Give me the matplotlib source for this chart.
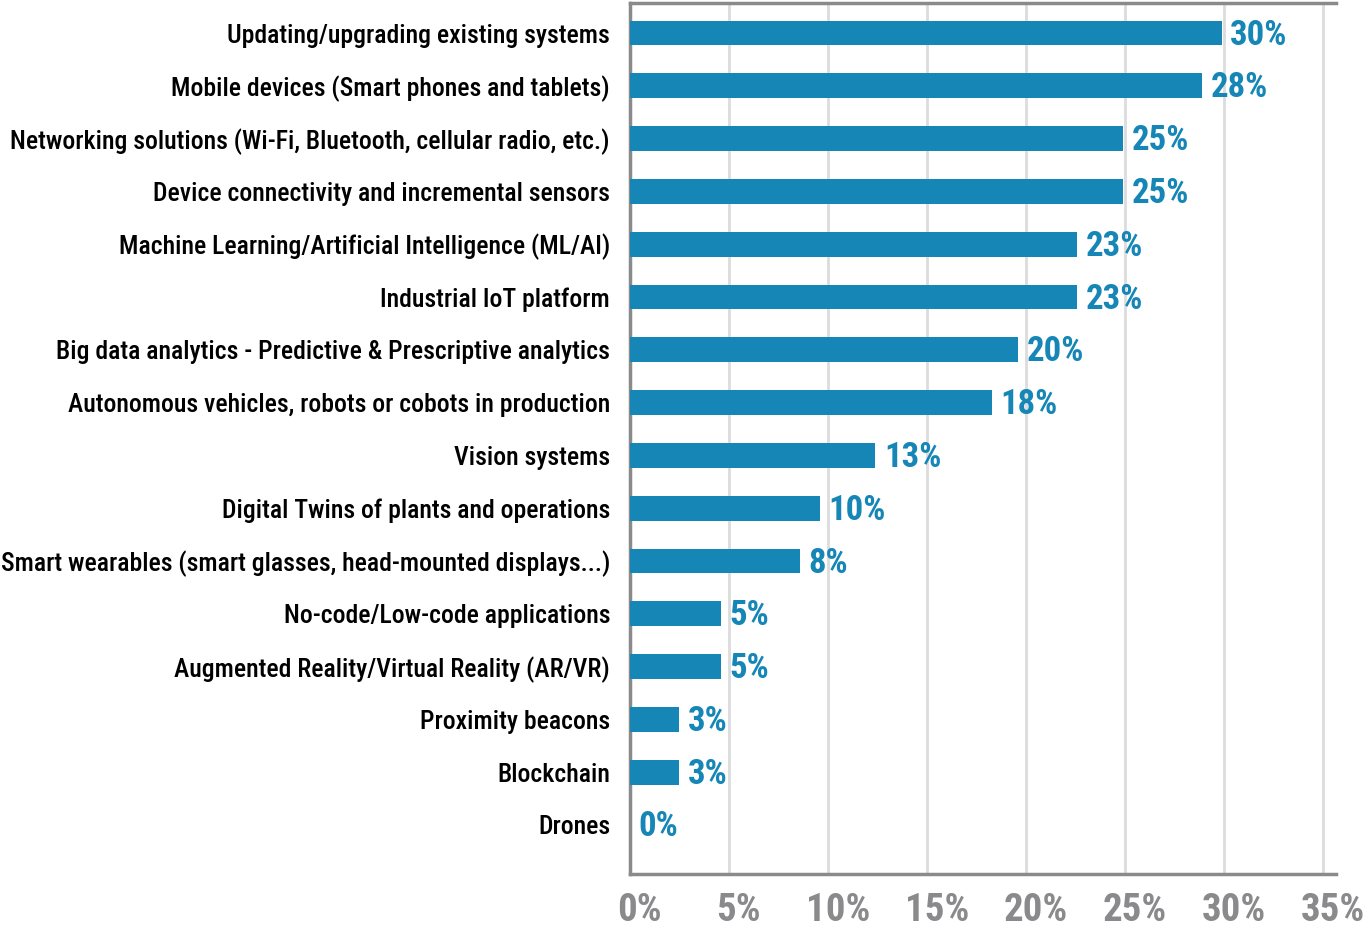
import matplotlib
matplotlib.use("Agg")
import matplotlib.pyplot as plt
from matplotlib.transforms import ScaledTranslation

categories = [
    "Updating/upgrading existing systems",
    "Mobile devices (Smart phones and tablets)",
    "Networking solutions (Wi-Fi, Bluetooth, cellular radio, etc.)",
    "Device connectivity and incremental sensors",
    "Machine Learning/Artificial Intelligence (ML/AI)",
    "Industrial IoT platform",
    "Big data analytics - Predictive & Prescriptive analytics",
    "Autonomous vehicles, robots or cobots in production",
    "Vision systems",
    "Digital Twins of plants and operations",
    "Smart wearables (smart glasses, head-mounted displays...)",
    "No-code/Low-code applications",
    "Augmented Reality/Virtual Reality (AR/VR)",
    "Proximity beacons",
    "Blockchain",
    "Drones",
]
values = [29.9, 28.9, 24.9, 24.9, 22.6, 22.6, 19.6, 18.3, 12.4, 9.6, 8.6,
          4.6, 4.6, 2.5, 2.5, 0.0]
value_labels = ["30%", "28%", "25%", "25%", "23%", "23%", "20%", "18%",
                "13%", "10%", "8%", "5%", "5%", "3%", "3%", "0%"]
xticks = [0, 5, 10, 15, 20, 25, 30, 35]
xtick_labels = ["0%", "5%", "10%", "15%", "20%", "25%", "30%", "35%"]

BAR = "#1586b6"
GRID = "#dcdcdc"
SPINE = "#8a8a8c"
NARROW = ["Roboto Condensed", "Open Sans Condensed", "Noto Sans", "DejaVu Sans"]

fig = plt.figure(figsize=(13.63, 9.31), dpi=100)
ax = fig.add_axes([630 / 1363, 1 - 874 / 931, (1336 - 630) / 1363, (874 - 3) / 931])

ypos = list(range(len(categories)))
ax.barh(ypos, values, height=0.47, color=BAR, zorder=3)

for y, v, lab in zip(ypos, values, value_labels):
    ax.annotate(lab, (v, y), xytext=(6, -1.5), textcoords="offset points",
                ha="left", va="center", fontsize=25, fontweight="bold",
                fontstretch="condensed", color=BAR, family=NARROW, zorder=4)

ax.set_xlim(0, 35.66)
ax.set_ylim(len(categories) - 1 + 0.93, -0.57)

ax.set_xticks(xticks)
ax.set_xticklabels(xtick_labels, fontsize=28, fontweight="bold",
                   fontstretch="condensed", color="#8a8a8c", family=NARROW)
ax.set_yticks(ypos)
ax.set_yticklabels(categories, fontsize=18.5, fontweight="medium",
                   fontstretch="condensed", color="black", family=NARROW)
ax.tick_params(axis="x", length=0, pad=13)
ax.tick_params(axis="y", length=0, pad=14.4)

# x labels sit a little right of their gridlines in the original
shift = ScaledTranslation(7 / 72, 0, fig.dpi_scale_trans)
for t in ax.get_xticklabels():
    t.set_transform(t.get_transform() + shift)

ax.grid(axis="x", color=GRID, lw=2, zorder=0)
ax.set_axisbelow(True)

for side in ["left", "bottom", "top"]:
    ax.spines[side].set_color(SPINE)
    ax.spines[side].set_linewidth(2.5)
ax.spines["right"].set_visible(False)

fig.savefig("out.png", dpi=100)
